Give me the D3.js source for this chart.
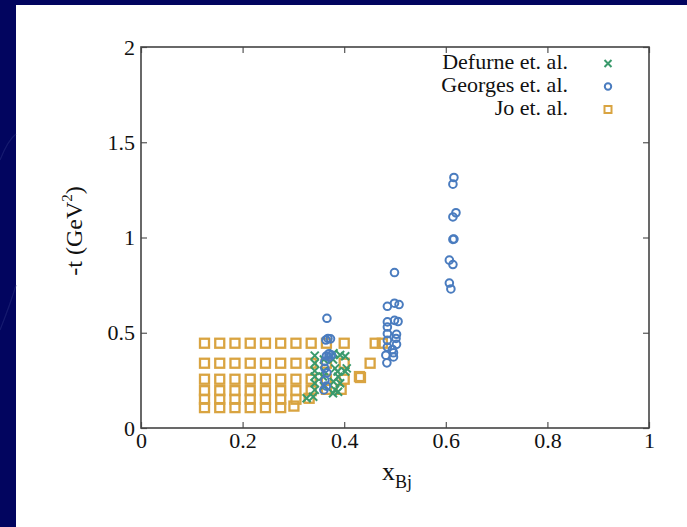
<!DOCTYPE html>
<html>
<head>
<meta charset="utf-8">
<script src="https://cdn.jsdelivr.net/npm/d3@7/dist/d3.min.js"></script>
<style>
  html, body { margin: 0; padding: 0; background: #ffffff; overflow: hidden; }
  svg { display: block; }
  text { font-family: "Liberation Serif", "DejaVu Serif", serif; fill: #111; }
</style>
</head>
<body>
<svg id="chart" width="687" height="527"></svg>
<script>
// ---------- data ----------
const seriesNames = ["Defurne et. al.", "Georges et. al.", "Jo et. al."];

const defurneX = [0.342,0.342,0.342,0.342,0.342,0.342,0.339,0.326,0.360,0.360,0.358,0.360,0.378,0.379,0.392,0.402,0.382,0.387,0.405,0.402,0.388,0.379,0.392,0.378,0.382,0.388];
const defurneT = [0.380,0.340,0.300,0.270,0.235,0.200,0.164,0.156,0.360,0.300,0.270,0.220,0.360,0.392,0.383,0.377,0.313,0.297,0.313,0.297,0.269,0.243,0.235,0.182,0.200,0.190];

const georgesX = [0.366,0.368,0.373,0.364,0.370,0.375,0.365,0.370,0.362,0.362,0.366,0.362,0.365,0.360,
                  0.499,0.485,0.499,0.508,0.485,0.499,0.506,0.485,0.485,0.503,0.485,0.503,0.495,0.482,0.497,0.497,0.484,0.485,0.502,
                  0.616,0.614,0.620,0.614,0.614,0.616,0.607,0.614,0.607,0.610];
const georgesT = [0.576,0.470,0.468,0.462,0.390,0.383,0.378,0.372,0.350,0.313,0.290,0.250,0.220,0.200,
                  0.816,0.639,0.655,0.648,0.557,0.565,0.559,0.530,0.495,0.492,0.460,0.439,0.412,0.382,0.395,0.373,0.342,0.425,0.470,
                  1.315,1.280,1.130,1.108,0.990,0.992,0.881,0.858,0.761,0.730];

const joX = [0.125,0.125,0.125,0.125,0.125,0.125,
             0.155,0.155,0.155,0.155,0.155,0.155,
             0.185,0.185,0.185,0.185,0.185,0.185,
             0.215,0.215,0.215,0.215,0.215,0.215,
             0.245,0.245,0.245,0.245,0.245,0.245,
             0.275,0.275,0.275,0.275,0.275,0.275,
             0.305,0.305,0.305,0.305,0.305,0.301,
             0.335,0.335,0.335,0.335,0.331,
             0.365,0.365,0.365,0.365,
             0.400,0.400,0.400,0.394,
             0.430,0.432,0.451,0.461,0.475];
const joT = [0.445,0.340,0.256,0.196,0.151,0.107,
             0.445,0.340,0.256,0.196,0.151,0.107,
             0.445,0.340,0.256,0.196,0.151,0.107,
             0.445,0.340,0.256,0.196,0.151,0.107,
             0.445,0.340,0.256,0.196,0.151,0.107,
             0.445,0.340,0.256,0.196,0.151,0.107,
             0.445,0.340,0.256,0.196,0.151,0.115,
             0.445,0.340,0.256,0.196,0.156,
             0.445,0.340,0.256,0.203,
             0.445,0.340,0.256,0.203,
             0.270,0.265,0.340,0.445,0.445];

const xTicks = [0, 0.2, 0.4, 0.6, 0.8, 1];
const xTickLabels = ["0", "0.2", "0.4", "0.6", "0.8", "1"];
const yTicks = [0, 0.5, 1, 1.5, 2];
const yTickLabels = ["0", "0.5", "1", "1.5", "2"];

// ---------- layout ----------
const svg = d3.select("#chart");
const colors = { def: "#3a9a6c", geo: "#4a7cbf", jo: "#d9a441" };
const navy = "#02055f";

// dark slide frame: top and left strips
svg.append("rect").attr("x", 0).attr("y", 0).attr("width", 687).attr("height", 5).attr("fill", navy);
svg.append("rect").attr("x", 0).attr("y", 0).attr("width", 16).attr("height", 527).attr("fill", navy);

// faint swirls in the dark margin
const sw = svg.append("g").attr("fill", "none").attr("stroke", "#23287a").attr("stroke-width", 1.2).attr("opacity", 0.6);
sw.append("path").attr("d", "M0,160 Q8,140 16,134");
sw.append("path").attr("d", "M0,330 Q10,305 16,285");

const x = d3.scaleLinear().domain([0, 1]).range([141, 649]);
const y = d3.scaleLinear().domain([0, 2]).range([428, 47]);

const tickLen = 6;
const fmtX = d => xTickLabels[xTicks.indexOf(d)];
const fmtY = d => yTickLabels[yTicks.indexOf(d)];

const gx = svg.append("g").attr("transform", `translate(0,${y(0)})`)
  .call(d3.axisBottom(x).tickValues(xTicks).tickFormat(fmtX).tickSizeInner(-tickLen).tickSizeOuter(0).tickPadding(4));
const gxt = svg.append("g").attr("transform", `translate(0,${y(2)})`)
  .call(d3.axisTop(x).tickValues(xTicks).tickFormat("").tickSizeInner(-tickLen).tickSizeOuter(0));
const gy = svg.append("g").attr("transform", `translate(${x(0)},0)`)
  .call(d3.axisLeft(y).tickValues(yTicks).tickFormat(fmtY).tickSizeInner(-tickLen).tickSizeOuter(0).tickPadding(6));
const gyr = svg.append("g").attr("transform", `translate(${x(1)},0)`)
  .call(d3.axisRight(y).tickValues(yTicks).tickFormat("").tickSizeInner(-tickLen).tickSizeOuter(0));

[gx, gxt, gy, gyr].forEach(g => {
  g.select(".domain").remove();
  g.selectAll(".tick line").attr("stroke", "#555").attr("stroke-width", 1.2);
  g.selectAll(".tick text").attr("font-size", 22).attr("fill", "#111")
    .attr("font-family", "'Liberation Serif', serif");
});

svg.append("rect")
  .attr("x", x(0)).attr("y", y(2)).attr("width", x(1) - x(0)).attr("height", y(0) - y(2))
  .attr("fill", "none").attr("stroke", "#444").attr("stroke-width", 1.6);

// ---------- marks ----------
const plot = svg.append("g");

// Jo et al. squares
const sq = 9;
plot.append("g").selectAll("rect").data(joX.map((v, i) => [v, joT[i]])).join("rect")
  .attr("x", d => x(d[0]) - sq / 2).attr("y", d => y(d[1]) - sq / 2)
  .attr("width", sq).attr("height", sq)
  .attr("fill", "none").attr("stroke", colors.jo).attr("stroke-width", 2.3);

// Defurne et al. crosses
const cs = 4;
plot.append("g").selectAll("path").data(defurneX.map((v, i) => [v, defurneT[i]])).join("path")
  .attr("d", d => {
    const cx = x(d[0]), cy = y(d[1]);
    return `M${cx - cs},${cy - cs}L${cx + cs},${cy + cs}M${cx - cs},${cy + cs}L${cx + cs},${cy - cs}`;
  })
  .attr("fill", "none").attr("stroke", colors.def).attr("stroke-width", 2);

// Georges et al. circles
plot.append("g").selectAll("circle").data(georgesX.map((v, i) => [v, georgesT[i]])).join("circle")
  .attr("cx", d => x(d[0])).attr("cy", d => y(d[1])).attr("r", 3.8)
  .attr("fill", "none").attr("stroke", colors.geo).attr("stroke-width", 2);

// ---------- legend ----------
const legendBaselines = [69, 92, 115];
const leg = svg.append("g");
seriesNames.forEach((name, i) => {
  leg.append("text").attr("x", 568).attr("y", legendBaselines[i])
    .attr("text-anchor", "end").attr("font-size", 22).text(name);
});
const lx = 608;
const ly = legendBaselines.map(b => b - 5.5);
leg.append("path")
  .attr("d", `M${lx - 3.5},${ly[0] - 3.5}L${lx + 3.5},${ly[0] + 3.5}M${lx - 3.5},${ly[0] + 3.5}L${lx + 3.5},${ly[0] - 3.5}`)
  .attr("stroke", colors.def).attr("stroke-width", 2).attr("fill", "none");
leg.append("circle").attr("cx", lx).attr("cy", ly[1]).attr("r", 3.2)
  .attr("stroke", colors.geo).attr("stroke-width", 2).attr("fill", "none");
leg.append("rect").attr("x", lx - 3.5).attr("y", ly[2] - 3.5).attr("width", 7).attr("height", 7)
  .attr("stroke", colors.jo).attr("stroke-width", 2).attr("fill", "none");

// ---------- axis titles ----------
const xt = svg.append("text").attr("x", 397).attr("y", 480).attr("text-anchor", "middle").attr("font-size", 26);
xt.append("tspan").text("x");
xt.append("tspan").attr("font-size", 18).attr("dy", 8).text("Bj");

const yt = svg.append("text").attr("transform", "translate(82,231) rotate(-90)")
  .attr("text-anchor", "middle").attr("font-size", 24);
yt.append("tspan").text("-t (GeV");
yt.append("tspan").attr("font-size", 15).attr("dy", -10).text("2");
yt.append("tspan").attr("dy", 10).text(")");
</script>
</body>
</html>
